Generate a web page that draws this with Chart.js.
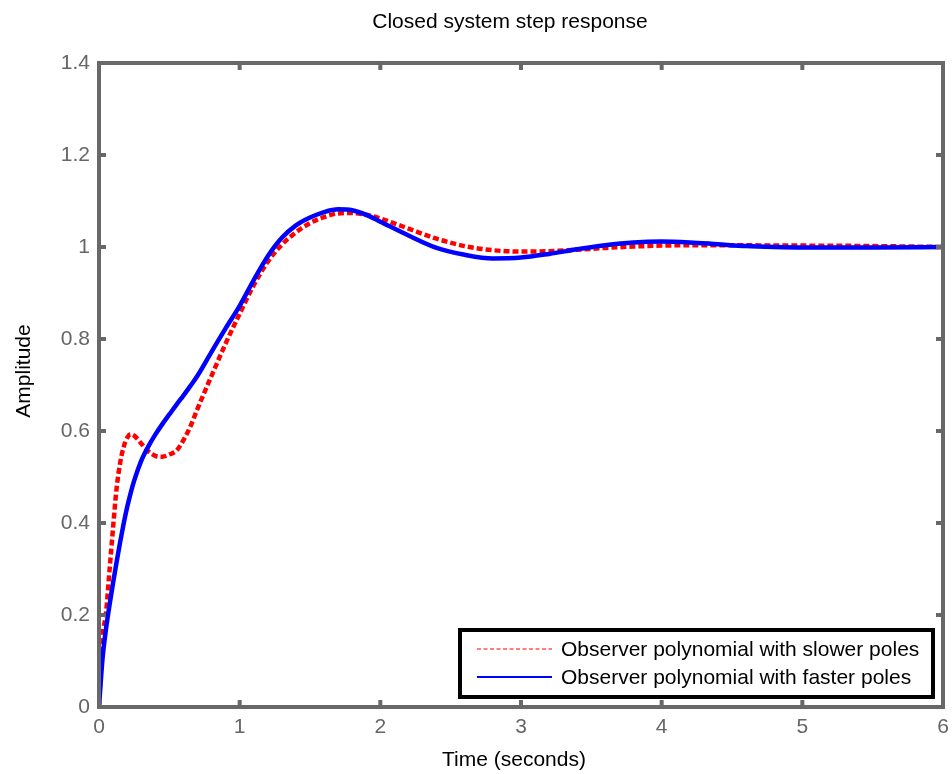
<!DOCTYPE html>
<html>
<head>
<meta charset="utf-8">
<script src="https://cdn.jsdelivr.net/npm/chart.js@4.4.1/dist/chart.umd.min.js"></script>
<style>
  html, body { margin: 0; padding: 0; background: #ffffff; }
  #wrap { width: 952px; height: 774px; }
</style>
</head>
<body>
<div id="wrap"><canvas id="c" width="952" height="774"></canvas></div>
<script>
// ---- data ----
const chartTitle = "Closed system step response";
const xAxisTitle = "Time (seconds)";
const yAxisTitle = "Amplitude";
const seriesNames = ["Observer polynomial with slower poles", "Observer polynomial with faster poles"];

const timeSec = [0, 0.025, 0.05, 0.075, 0.1, 0.125, 0.15, 0.175, 0.2, 0.225, 0.25, 0.3, 0.35, 0.4, 0.45, 0.5, 0.55, 0.6, 0.65, 0.7, 0.8, 0.9, 1.0, 1.1, 1.2, 1.3, 1.4, 1.5, 1.6, 1.7, 1.8, 1.9, 2.0, 2.2, 2.4, 2.6, 2.8, 3.0, 3.2, 3.4, 3.6, 3.8, 4.0, 4.2, 4.4, 4.6, 4.8, 5.0, 5.5, 6.0];

const slowerPoles = [0, 0.15, 0.205, 0.298, 0.39, 0.475, 0.53, 0.565, 0.585, 0.593, 0.59, 0.573, 0.556, 0.546, 0.544, 0.549, 0.557, 0.58, 0.61, 0.648, 0.72, 0.79, 0.855, 0.917, 0.968, 1.005, 1.032, 1.052, 1.065, 1.073, 1.074, 1.07, 1.062, 1.04, 1.018, 1.002, 0.993, 0.99, 0.991, 0.994, 0.998, 1.001, 1.003, 1.004, 1.004, 1.004, 1.003, 1.003, 1.002, 1.0];

const fasterPoles = [0, 0.105, 0.17, 0.222, 0.27, 0.315, 0.358, 0.398, 0.434, 0.465, 0.492, 0.535, 0.566, 0.592, 0.615, 0.636, 0.657, 0.677, 0.698, 0.72, 0.772, 0.823, 0.872, 0.928, 0.98, 1.02, 1.047, 1.064, 1.076, 1.082, 1.08, 1.07, 1.055, 1.025, 0.998, 0.983, 0.975, 0.977, 0.985, 0.995, 1.004, 1.01, 1.012, 1.01, 1.006, 1.002, 1.0, 0.999, 0.999, 1.0];

const xTicks = [0, 1, 2, 3, 4, 5, 6];
const yTicks = [0, 0.2, 0.4, 0.6, 0.8, 1, 1.2, 1.4];

// ---- build ----
const toPoints = (ts, vs) => ts.map((t, i) => ({ x: t, y: vs[i] }));
const FONT = "'Liberation Sans', Arial, Helvetica, sans-serif";
const FRAME = '#686868';

const framePlugin = {
  id: 'matlabFrame',
  afterDatasetsDraw(chart) {
    const { ctx, chartArea: a, scales } = chart;
    ctx.save();
    ctx.strokeStyle = FRAME;
    ctx.lineWidth = 4;
    ctx.lineCap = 'butt';
    ctx.strokeRect(a.left, a.top, a.right - a.left, a.bottom - a.top);
    const tl = 7;
    ctx.beginPath();
    xTicks.forEach(v => {
      const px = scales.x.getPixelForValue(v);
      ctx.moveTo(px, a.bottom); ctx.lineTo(px, a.bottom - tl);
      ctx.moveTo(px, a.top); ctx.lineTo(px, a.top + tl);
    });
    yTicks.forEach(v => {
      const py = scales.y.getPixelForValue(v);
      ctx.moveTo(a.left, py); ctx.lineTo(a.left + tl, py);
      ctx.moveTo(a.right, py); ctx.lineTo(a.right - tl, py);
    });
    ctx.stroke();
    ctx.restore();
  },
  afterDraw(chart) {
    const { ctx, chartArea: a } = chart;
    const ds = chart.data.datasets;
    ctx.save();
    // titles
    ctx.fillStyle = '#000000';
    ctx.font = '21px ' + FONT;
    ctx.textAlign = 'center';
    ctx.textBaseline = 'middle';
    ctx.fillText(chartTitle, 510, 22);
    ctx.fillText(xAxisTitle, 514, 760);
    ctx.save();
    ctx.translate(24, 371);
    ctx.rotate(-Math.PI / 2);
    ctx.fillText(yAxisTitle, 0, 0);
    ctx.restore();
    // legend
    const boxL = 460, boxR = a.right - 10, boxB = a.bottom - 10, boxT = boxB - 67;
    ctx.fillStyle = '#ffffff';
    ctx.fillRect(boxL, boxT, boxR - boxL, boxB - boxT);
    ctx.strokeStyle = '#000000';
    ctx.lineWidth = 4;
    ctx.strokeRect(boxL, boxT, boxR - boxL, boxB - boxT);
    ctx.textAlign = 'left';
    ds.forEach((d, i) => {
      const y = boxT + 19 + i * 28;
      ctx.beginPath();
      ctx.strokeStyle = d.borderColor;
      ctx.lineWidth = i === 0 ? 1.2 : 2;
      ctx.setLineDash(i === 0 ? [4, 2.5] : []);
      ctx.moveTo(boxL + 17, y);
      ctx.lineTo(boxL + 92, y);
      ctx.stroke();
      ctx.setLineDash([]);
      ctx.fillStyle = '#000000';
      ctx.fillText(d.label, boxL + 101, y + 1);
    });
    ctx.restore();
  }
};

new Chart(document.getElementById('c'), {
  type: 'line',
  data: {
    datasets: [
      {
        label: seriesNames[0],
        data: toPoints(timeSec, slowerPoles),
        borderColor: '#ff0000',
        borderWidth: 4.5,
        borderDash: [6, 3],
        pointRadius: 0,
        cubicInterpolationMode: 'monotone',
        fill: false,
        order: 1
      },
      {
        label: seriesNames[1],
        data: toPoints(timeSec, fasterPoles),
        borderColor: '#0000ff',
        borderWidth: 4.5,
        pointRadius: 0,
        cubicInterpolationMode: 'monotone',
        fill: false,
        order: 0
      }
    ]
  },
  options: {
    responsive: false,
    animation: false,
    devicePixelRatio: 1,
    layout: { padding: { left: 0, right: 9, top: 63, bottom: 0 } },
    plugins: {
      legend: { display: false },
      tooltip: { enabled: false },
      title: { display: false }
    },
    scales: {
      x: {
        type: 'linear',
        min: 0, max: 6,
        afterBuildTicks: (s) => { s.ticks = xTicks.map(v => ({ value: v })); },
        afterFit: (s) => { s.height = 67; s.paddingRight = 0; s.paddingLeft = 0; },
        grid: { display: false, drawTicks: false },
        border: { display: false },
        ticks: {
          color: '#666666',
          padding: 8,
          font: { family: FONT, size: 21 },
          callback: (v) => String(v)
        },
        title: { display: false }
      },
      y: {
        type: 'linear',
        min: 0, max: 1.4,
        afterBuildTicks: (s) => { s.ticks = yTicks.map(v => ({ value: v })); },
        afterFit: (s) => { s.width = 99; s.paddingTop = 0; s.paddingBottom = 0; },
        grid: { display: false, drawTicks: false },
        border: { display: false },
        ticks: {
          color: '#666666',
          padding: 9,
          font: { family: FONT, size: 21 },
          callback: (v) => String(Math.round(v * 10) / 10)
        },
        title: { display: false }
      }
    }
  },
  plugins: [framePlugin]
});
</script>
</body>
</html>
